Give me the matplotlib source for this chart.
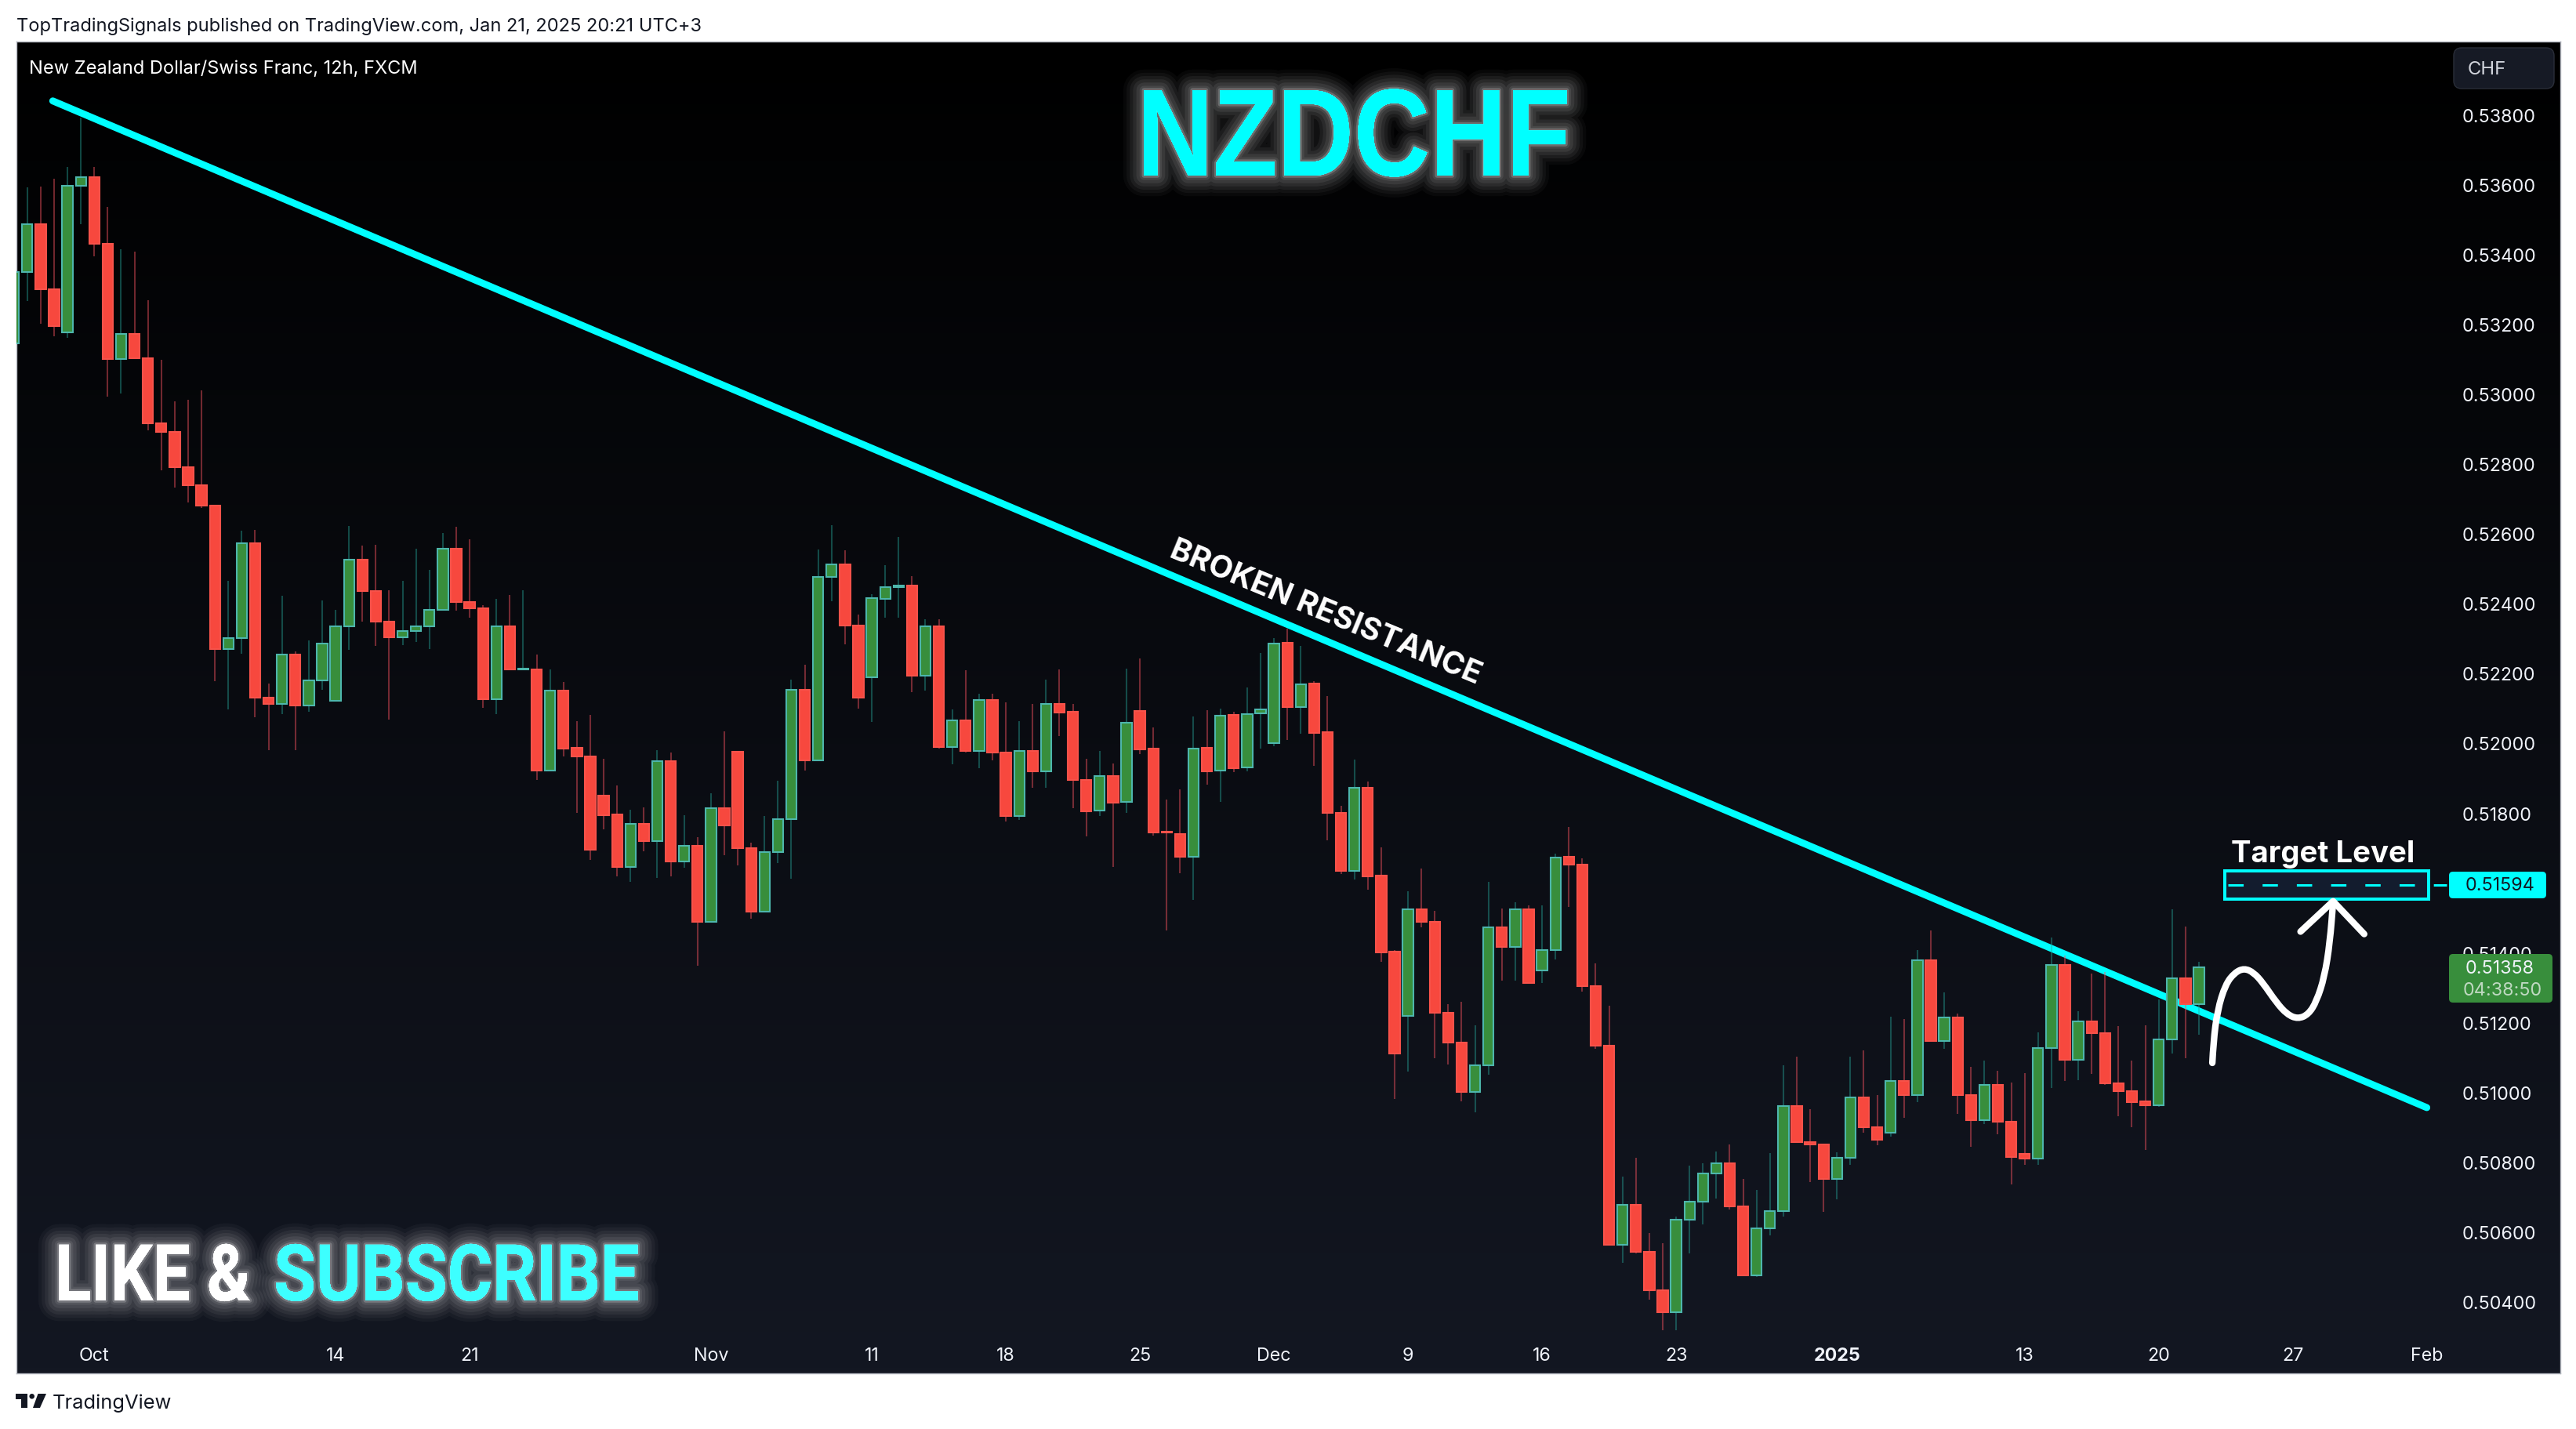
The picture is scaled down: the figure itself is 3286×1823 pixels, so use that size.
import numpy as np
import matplotlib
matplotlib.use("Agg")
import matplotlib.pyplot as plt
import matplotlib.patheffects as pe
from matplotlib.colors import LinearSegmentedColormap
from matplotlib.patches import FancyBboxPatch, Polygon, Circle, PathPatch, Rectangle
from matplotlib.path import Path
from matplotlib.transforms import Affine2D, IdentityTransform

W, H = 3286, 1824
DPI = 200
UI_FONT = ["Inter", "Roboto", "DejaVu Sans"]

# prices in units of 0.00001, one row per 10 candles (12h bars)
opens = [53144,53349,53485,53299,53176,53597,53621,53429,53099,53171,
         53102,52915,52890,52790,52738,52679,52269,52300,52573,52129,
         52113,52253,52107,52179,52121,52334,52525,52435,52347,52304,
         52320,52334,52381,52556,52403,52386,52126,52334,52211,52210,
         51921,52150,51986,51961,51849,51795,51646,51768,51720,51948,
         51660,51705,51487,51813,51976,51698,51518,51687,51781,52152,
         51950,52475,52511,52336,52188,52414,52446,52450,52194,52334,
         51988,52064,51977,52123,51972,51790,51977,51918,52112,52089,
         51895,51806,51905,51831,52091,51984,51746,51739,51675,51986,
         51921,52080,51930,52085,52000,52287,52104,52170,52031,51800,
         51633,51871,51620,51402,51219,51523,51489,51227,51143,51002,
         51078,51473,51417,51523,51348,51408,51674,51651,51305,51134,
         50564,50678,50544,50434,50371,50636,50687,50768,50797,50674,
         50476,50611,50660,50961,50858,50851,50752,50812,50986,50901,
         50885,51033,50993,51379,51147,51215,50993,50920,51022,50916,
         50824,50811,51127,51365,51094,51204,51170,51026,51004,50973,
         50963,51152,51327,51252]
closes = [53349,53485,53299,53195,53596,53621,53429,53099,53171,53102,
          52915,52890,52790,52738,52679,52269,52300,52573,52129,52113,
          52253,52107,52179,52284,52334,52525,52435,52347,52304,52320,
          52334,52381,52556,52403,52386,52126,52334,52211,52212,51921,
          52150,51985,51961,51695,51794,51646,51768,51720,51948,51660,
          51705,51487,51813,51765,51698,51518,51687,51781,52152,51950,
          52476,52511,52336,52131,52415,52446,52451,52194,52334,51988,
          52064,51977,52123,51972,51790,51977,51918,52112,52088,51895,
          51805,51905,51830,52058,51983,51743,51743,51675,51985,51920,
          52079,51929,52084,52096,52286,52104,52169,52030,51799,51633,
          51871,51619,51401,51111,51523,51489,51227,51143,51002,51078,
          51473,51417,51523,51314,51408,51673,51651,51305,51134,50564,
          50678,50544,50434,50371,50635,50687,50768,50797,50674,50476,
          50611,50660,50961,50857,50850,50752,50812,50986,50899,50864,
          51033,50992,51378,51147,51214,50992,50920,51021,50916,50815,
          50810,51127,51365,51093,51203,51169,51026,51003,50972,50963,
          51151,51327,51252,51358]
highs = [53349,53592,53594,53616,53650,53792,53650,53536,53414,53408,
         53268,53098,52979,52983,53010,52682,52465,52609,52611,52171,
         52422,52263,52295,52409,52382,52622,52566,52568,52438,52465,
         52557,52497,52601,52620,52584,52396,52414,52425,52438,52254,
         52210,52176,52062,52081,51955,51879,51809,51816,51980,51973,
         51793,51731,51856,52034,51977,51715,51791,51893,52182,52225,
         52555,52624,52553,52368,52427,52510,52591,52478,52354,52354,
         52097,52209,52141,52141,52117,52063,52111,52182,52211,52112,
         51955,51978,51942,52213,52243,52045,51838,51868,52076,52094,
         52099,52090,52160,52258,52301,52327,52279,52177,52135,51820,
         51953,51890,51701,51407,51575,51641,51519,51253,51259,51191,
         51602,51526,51544,51536,51535,51683,51760,51670,51370,51248,
         50758,50812,50596,50567,50643,50790,50797,50830,50851,50751,
         50720,50826,51077,51101,50951,50852,50827,51103,51121,50993,
         51216,51209,51407,51463,51285,51225,51072,51090,51061,51027,
         51054,51171,51443,51392,51231,51339,51344,51189,51090,51191,
         51265,51523,51474,51373]
lows = [53144,53266,53201,53165,53160,53487,53394,52993,53000,53102,
        52895,52780,52732,52689,52674,52177,52097,52255,52073,51980,
        52084,51980,52089,52152,52121,52267,52347,52278,52068,52280,
        52289,52269,52381,52379,52360,52100,52084,52208,52211,51894,
        51921,51961,51801,51666,51752,51619,51603,51690,51614,51619,
        51644,51363,51487,51678,51649,51498,51518,51657,51611,51922,
        51950,52406,52282,52099,52061,52358,52360,52145,52150,51985,
        51940,51972,51929,51950,51776,51779,51873,51873,52021,51814,
        51733,51790,51646,51801,51969,51736,51464,51628,51552,51880,
        51832,51916,51920,51985,51990,52008,52026,51934,51722,51626,
        51609,51579,51373,50981,51060,51472,51098,51079,50975,50943,
        51050,51320,51320,51314,51312,51380,51530,51288,51124,50564,
        50512,50539,50405,50319,50319,50539,50622,50696,50665,50474,
        50470,50591,50644,50855,50743,50657,50693,50792,50884,50848,
        50873,50927,50972,51147,51124,50938,50844,50909,50880,50736,
        50792,50792,51012,51032,51035,51053,51021,50931,50900,50835,
        50958,51111,51097,51165]

date_ticks = [6, 24, 34, 52, 64, 74, 84, 94, 104, 114, 124, 136, 150, 160, 170, 180]
date_labels = ["Oct", "14", "21", "Nov", "11", "18", "25", "Dec", "9", "16", "23", "2025", "13", "20", "27", "Feb"]
price_ticks = [0.538, 0.536, 0.534, 0.532, 0.530, 0.528, 0.526, 0.524, 0.522,
               0.520, 0.518, 0.516, 0.514, 0.512, 0.510, 0.508, 0.506, 0.504]

# drawn annotations, in bar index / price
trend_x = [2.9, 180.0]
trend_y = [0.53839, 0.50956]
target_price = 0.51594
last_price = 0.51358
squiggle_x = [164.0, 164.08, 164.38, 164.98, 165.68, 166.38, 167.08, 167.78,
              168.78, 169.58, 170.38, 171.17, 171.77, 172.37, 172.77, 173.01]
squiggle_y = [0.51084, 0.51144, 0.51234, 0.51309, 0.51343, 0.51355, 0.51343, 0.51313,
              0.51257, 0.51223, 0.51210, 0.51223, 0.51260, 0.51331, 0.51429, 0.51545]
head_x = [170.58, 173.01, 175.33]
head_y = [0.51460, 0.51547, 0.51453]


def fx(x):
    return x / W


def fy(y):
    return 1 - y / H


def ui_box(x0, y0, x1, y1, color, edge="none", rounding=5, z=6):
    # pixel box, measured from top left of the picture
    box = FancyBboxPatch((x0, H - y1), x1 - x0, y1 - y0,
                         boxstyle=f"round,pad=0,rounding_size={rounding}",
                         facecolor=color, edgecolor=edge, linewidth=0.5,
                         transform=IdentityTransform(), zorder=z)
    fig.add_artist(box)


class SqueezedStroke(pe.Stroke):
    # the poster titles use a condensed face, so narrow the glyphs around x0
    def __init__(self, x0, factor, **kwargs):
        super().__init__(**kwargs)
        self.x0 = x0
        self.factor = factor

    def draw_path(self, renderer, gc, tpath, affine, rgbFace):
        squeeze = Affine2D().translate(-self.x0, 0).scale(self.factor, 1).translate(self.x0, 0)
        super().draw_path(renderer, gc, tpath, affine + squeeze, rgbFace)


def glow(x0, factor):
    # stacked soft strokes, the widest first
    layers = [(19, 0.03), (16, 0.04), (13, 0.05), (10, 0.06), (7, 0.07), (4, 0.08), (2, 0.20)]
    effects = [SqueezedStroke(x0, factor, linewidth=w, foreground=(1, 1, 1, a)) for w, a in layers]
    return effects + [SqueezedStroke(x0, factor)]


fig = plt.figure(figsize=(W / DPI, H / DPI), dpi=DPI, facecolor="white")
ax = fig.add_axes([fx(20.5), fy(1753), (3266 - 20.5) / W, (1753 - 54) / H])

# background goes from black at the top to the dark navy at the bottom
cmap = LinearSegmentedColormap.from_list("bg", ["#000000", "#131722"])
ax.imshow(np.linspace(0, 1, 256).reshape(-1, 1), cmap=cmap, aspect="auto",
          extent=(0, 1, 0, 1), transform=ax.transAxes, zorder=0)

o = np.array(opens) / 1e5
c = np.array(closes) / 1e5
hi = np.array(highs) / 1e5
lo = np.array(lows) / 1e5
x = np.arange(len(o))
up = c >= o

ax.plot(trend_x, trend_y, color="#00FFFF", lw=3.2, solid_capstyle="round", zorder=1.5)

# wicks are see-through, the trend line shows behind them
ax.vlines(x[up], lo[up], hi[up], color="#26A69A", alpha=0.42, lw=0.75, zorder=2)
ax.vlines(x[~up], lo[~up], hi[~up], color="#F7525F", alpha=0.45, lw=0.75, zorder=2)
ax.bar(x[up], (c - o)[up], bottom=o[up], width=0.78, color="#388E3C",
       edgecolor="#4DB6AC", linewidth=0.75, zorder=3)
ax.bar(x[~up], (c - o)[~up], bottom=o[~up], width=0.78, color="#F7483E",
       edgecolor="#F7524A", linewidth=0.75, zorder=3)

# target level box and dashes
ax.add_patch(Rectangle((164.93, 0.51553), 15.2, 0.00081, facecolor="#131C2E",
                       edgecolor="#00FFFF", linewidth=1.45, zorder=3.5))
ax.plot([165.15, 181.5], [target_price, target_price], color="#00FFFF", lw=1.1,
        dashes=(6.4, 7.9), dash_capstyle="butt", zorder=3.6)

# hand drawn arrow, smoothed through the midpoints
pts = np.column_stack([squiggle_x, squiggle_y])
verts = [pts[0]]
codes = [Path.MOVETO]
for i in range(1, len(pts) - 1):
    verts += [pts[i], (pts[i] + pts[i + 1]) / 2]
    codes += [Path.CURVE3, Path.CURVE3]
verts += [pts[-1]]
codes += [Path.LINETO]
ax.add_patch(PathPatch(Path(verts, codes), facecolor="none", edgecolor="white",
                       lw=3.0, capstyle="round", zorder=4))
ax.plot(head_x, head_y, color="white", lw=3.0, solid_capstyle="round",
        solid_joinstyle="round", zorder=4)

ax.set_xlim(0.164, 189.96)
ax.set_ylim(0.50195, 0.54009)
ax.set_axisbelow(True)
ax.yaxis.tick_right()
ax.set_yticks(price_ticks)
ax.set_yticklabels([f"{p:.5f}" for p in price_ticks], fontfamily=UI_FONT, fontsize=8.4, color="#F0F3FA")
ax.set_xticks(date_ticks)
ax.set_xticklabels(date_labels, fontfamily=UI_FONT, fontsize=8.4, color="#F0F3FA")
ax.get_xticklabels()[date_labels.index("2025")].set_fontweight("bold")
ax.tick_params(axis="y", length=0, pad=-45)
ax.tick_params(axis="x", length=0, pad=-12.4)
for side in ax.spines.values():
    side.set_color("#B2B5BE")
    side.set_linewidth(0.5)

# large titles
fig.text(fx(1727), fy(225), "NZDCHF", family=["Liberation Sans", "DejaVu Sans"], weight="bold", fontsize=57,
         color="#00FFFF", ha="center", va="baseline", path_effects=glow(1727, 0.85), zorder=5)
fig.text(fx(70), fy(1660), "LIKE &", family=["Roboto", "DejaVu Sans"], weight="bold", fontsize=36, color="white",
         ha="left", va="baseline", path_effects=glow(70, 0.85), zorder=5)
fig.text(fx(349), fy(1660), "SUBSCRIBE", family=["Roboto", "DejaVu Sans"], weight="bold", fontsize=36, color="#3DFFFF",
         ha="left", va="baseline", path_effects=glow(349, 0.878), zorder=5)

fig.text(fx(1691), fy(782), "BROKEN RESISTANCE", family=UI_FONT, weight="bold", fontsize=14.2, color="white",
         ha="center", va="center", rotation=-22.5, rotation_mode="anchor", zorder=5)
fig.text(fx(2963), fy(1090), "Target Level", family=UI_FONT, weight="bold", fontsize=13.8, color="white",
         ha="center", va="center", zorder=5)

# price scale labels
ui_box(3124, 1113, 3248, 1147, "#00FFFF")
fig.text(fx(3189), fy(1130), "0.51594", family=UI_FONT, fontsize=8.4, color="#131722", ha="center", va="center", zorder=7)
ui_box(3124, 1218, 3256, 1280, "#388E3C")
fig.text(fx(3189), fy(1236), f"{last_price:.5f}", family=UI_FONT, fontsize=8.4, color="#F0F3FA", ha="center", va="center", zorder=7)
fig.text(fx(3192), fy(1264), "04:38:50", family=UI_FONT, fontsize=8.4, color="#BFD9C1", ha="center", va="center", zorder=7)
ui_box(3130, 62, 3258, 114, "#161A25", edge="#2A2E39", rounding=10)
fig.text(fx(3148), fy(89), "CHF", family=UI_FONT, fontsize=8.6, color="#D1D4DC", ha="left", va="center", zorder=7)

# header and footer texts
fig.text(fx(21), fy(34), "TopTradingSignals published on TradingView.com, Jan 21, 2025 20:21 UTC+3",
         family=UI_FONT, fontsize=8.5, color="#131722", ha="left", va="center")
fig.text(fx(37), fy(88), "New Zealand Dollar/Swiss Franc, 12h, FXCM",
         family=UI_FONT, fontsize=8.5, color="#FFFFFF", ha="left", va="center", zorder=7)
fig.text(fx(67), fy(1790), "TradingView", family=UI_FONT, fontsize=9.2, color="#131722", ha="left", va="center")

# TradingView mark
mark = "#131722"
fig.add_artist(Polygon([(20, H - 1779), (35, H - 1779), (35, H - 1797), (27.3, H - 1797), (27.3, H - 1786), (20, H - 1786)],
                       closed=True, facecolor=mark, edgecolor="none", transform=IdentityTransform()))
fig.add_artist(Circle((40.7, H - 1782.3), 3.3, facecolor=mark, edgecolor="none", transform=IdentityTransform()))
fig.add_artist(Polygon([(48.5, H - 1779), (59, H - 1779), (51, H - 1797), (42, H - 1797)],
                       closed=True, facecolor=mark, edgecolor="none", transform=IdentityTransform()))

fig.savefig("out.png", dpi=DPI, facecolor="white")
